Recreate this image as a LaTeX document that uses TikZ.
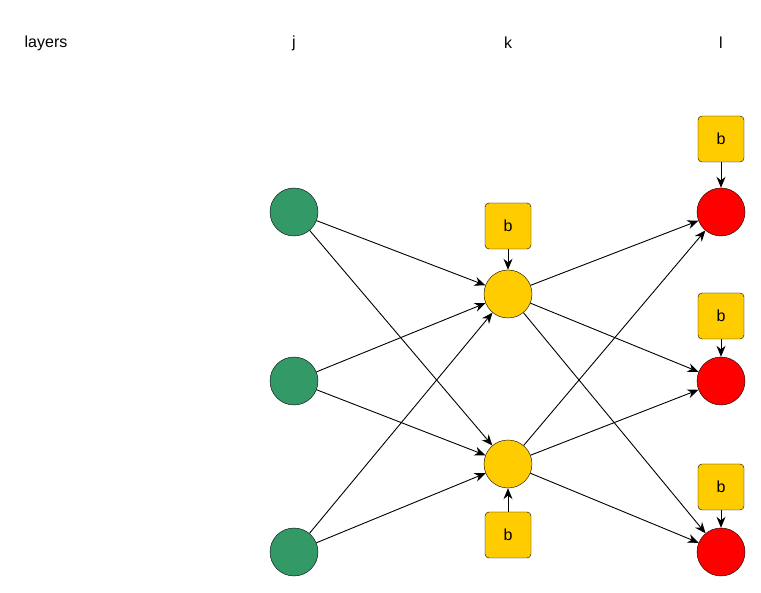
\documentclass[tikz,border=0pt]{standalone}
\usepackage{fontspec}
\setmainfont{Liberation Sans}
\usetikzlibrary{arrows.meta}
\begin{document}
\begin{tikzpicture}[x=1pt,y=-1pt,
 neu/.style={circle,draw=black,minimum size=48pt,inner sep=0pt},
 bias/.style={rectangle,rounded corners=4pt,draw=black,fill=biasc,minimum size=46pt,inner sep=0pt,font=\fontsize{16}{18}\selectfont},
 lbl/.style={font=\fontsize{16}{18}\selectfont},
 arr/.style={-{Stealth[length=11pt,width=9pt]},line width=0.9pt}]
\definecolor{greenc}{RGB}{51,153,102}
\definecolor{yelc}{RGB}{255,204,0}
\definecolor{biasc}{RGB}{255,204,0}
\useasboundingbox (0,0) rectangle (761,593);
\node[lbl] (tl) at (46,43) {layers};
\node[lbl] (tj) at (294,43) {j};
\node[lbl] (tk) at (508,43) {k};
\node[lbl] (tll) at (721,43) {l};
\foreach \i/\y in {1/212,2/381,3/552} {
  \node[neu,fill=greenc] (j\i) at (294,\y) {};
  \node[neu,fill=red] (l\i) at (721,\y) {};
}
\node[neu,fill=yelc] (k1) at (508,294) {};
\node[neu,fill=yelc] (k2) at (508,464) {};
\node[bias] (bk1) at (508,226) {b};
\node[bias] (bk2) at (508,535) {b};
\node[bias] (bl1) at (721,139) {b};
\node[bias] (bl2) at (721,316) {b};
\node[bias] (bl3) at (721,487) {b};
\foreach \i in {1,2,3} \foreach \k in {1,2} \draw[arr] (j\i) -- (k\k);
\foreach \k in {1,2} \foreach \i in {1,2,3} \draw[arr] (k\k) -- (l\i);
\draw[arr] (bk1) -- (k1);
\draw[arr] (bk2) -- (k2);
\foreach \i in {1,2,3} \draw[arr] (bl\i) -- (l\i);
\end{tikzpicture}
\end{document}
